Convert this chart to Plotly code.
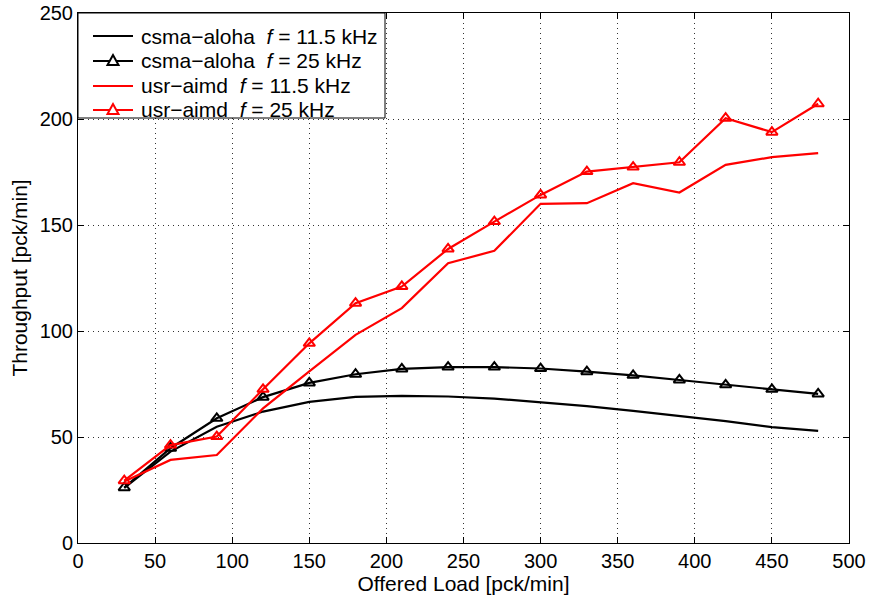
import plotly.graph_objects as go

load = [30, 60, 90, 120, 150, 180, 210, 240, 270, 300, 330, 360, 390, 420, 450, 480]

csma_11 = [26.0, 43.1, 54.8, 62.0, 66.6, 68.9, 69.4, 69.1, 68.1, 66.5, 64.6, 62.3, 59.9, 57.5, 54.7, 52.9]
csma_25 = [26.1, 44.7, 58.8, 68.8, 75.5, 79.6, 82.1, 83.0, 83.0, 82.3, 80.8, 79.1, 76.9, 74.6, 72.5, 70.3]
usr_11 = [29.0, 39.2, 41.5, 63.5, 81.0, 98.2, 110.8, 132.0, 137.8, 160.0, 160.3, 169.7, 165.3, 178.4, 182.0, 183.9]
usr_25 = [29.4, 46.2, 50.2, 72.5, 94.2, 113.1, 121.0, 138.7, 151.6, 164.2, 175.2, 177.3, 179.6, 200.4, 193.8, 207.2]

names = [
    "csma\u2212aloha\u00a0\u00a0<i>f</i> = 11.5 kHz",
    "csma\u2212aloha\u00a0\u00a0<i>f</i> = 25 kHz",
    "usr\u2212aimd\u00a0\u00a0<i>f</i> = 11.5 kHz",
    "usr\u2212aimd\u00a0\u00a0<i>f</i> = 25 kHz",
]

FONT = "Liberation Sans, Arial, Helvetica, sans-serif"

W, H = 869, 595
ML, MR, MT, MB = 78, 20, 13, 52
PW, PH = W - ML - MR, H - MT - MB


def px(x):
    return (x - ML) / PW


def py(y):
    return (H - MB - y) / PH


fig = go.Figure()
series = [
    (csma_11, "black", False),
    (csma_25, "black", True),
    (usr_11, "red", False),
    (usr_25, "red", True),
]
for (vals, col, mk), nm in zip(series, names):
    fig.add_trace(go.Scatter(
        x=load, y=vals, name=nm,
        mode="lines+markers" if mk else "lines",
        line=dict(color=col, width=2.2),
        marker=dict(symbol="triangle-up-open", size=10, color=col,
                    line=dict(color=col, width=2)),
        showlegend=False,
    ))

# manual legend (compact MATLAB-style box)
shapes = [dict(type="rect", xref="paper", yref="paper",
               x0=px(78), x1=px(385), y0=py(118), y1=py(13),
               fillcolor="white", line=dict(color="black", width=1),
               layer="above")]
annotations = []
row_y = [36, 61, 86, 110]
for (vals, col, mk), nm, ry in zip(series, names, row_y):
    shapes.append(dict(type="line", xref="paper", yref="paper",
                       x0=px(93), x1=px(133), y0=py(ry), y1=py(ry),
                       line=dict(color=col, width=2.2), layer="above"))
    if mk:
        cx = 113
        path = "M {:.5f},{:.5f} L {:.5f},{:.5f} L {:.5f},{:.5f} Z".format(
            px(cx), py(ry - 6), px(cx - 5.5), py(ry + 4), px(cx + 5.5), py(ry + 4))
        shapes.append(dict(type="path", xref="paper", yref="paper", path=path,
                           fillcolor="white", line=dict(color=col, width=2),
                           layer="above"))
    annotations.append(dict(xref="paper", yref="paper", x=px(139), y=py(ry),
                            xanchor="left", yanchor="middle", text=nm,
                            showarrow=False,
                            font=dict(family=FONT, size=21, color="black")))

axis_common = dict(
    showline=True, linecolor="black", linewidth=1, mirror="allticks",
    ticks="inside", ticklen=6, tickcolor="black", tickwidth=1,
    showgrid=True, gridcolor="#333333", griddash="1px,4px", gridwidth=1,
    zeroline=False, tickfont=dict(family=FONT, size=20, color="black"),
    dtick=50, tick0=0, automargin=False,
)

fig.update_layout(
    width=W, height=H,
    margin=dict(l=ML, r=MR, t=MT, b=MB),
    paper_bgcolor="white", plot_bgcolor="white",
    font=dict(family=FONT, size=21, color="black"),
    xaxis=dict(range=[0, 500], title=dict(text="Offered Load [pck/min]",
               font=dict(family=FONT, size=21), standoff=2), **axis_common),
    yaxis=dict(range=[0, 250], title=dict(text="Throughput [pck/min]",
               font=dict(family=FONT, size=21), standoff=6), **axis_common),
    shapes=shapes,
    annotations=annotations,
    showlegend=False,
)

fig.write_html("out.html")
